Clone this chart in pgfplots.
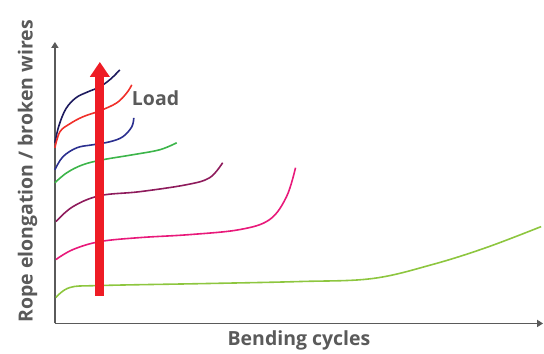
\documentclass[border=0pt]{standalone}
\usepackage{pgfplots}
\pgfplotsset{compat=1.18}
\usepackage{fontspec}
\setmainfont{Open Sans}
\usetikzlibrary{arrows.meta}
\definecolor{navy}{HTML}{1E1B5E}
\definecolor{cred}{HTML}{F0302A}
\definecolor{cblue}{HTML}{2B2F8F}
\definecolor{cgreen}{HTML}{3CB54A}
\definecolor{maroon}{HTML}{8E1B5C}
\definecolor{pink}{HTML}{E8197A}
\definecolor{lgreen}{HTML}{8DC63F}
\definecolor{arrowred}{HTML}{EE1C25}
\definecolor{txt}{HTML}{5A5A5A}
\definecolor{axgray}{HTML}{5A5A5A}
\begin{document}
\begin{tikzpicture}
\begin{axis}[
  scale only axis, width=489bp, height=282bp,
  xmin=55, xmax=544, ymin=30, ymax=312,
  axis lines=left,
  axis line style={draw=axgray, line width=1.8bp, -{Triangle[width=7bp,length=6bp]}},
  xtick=\empty, ytick=\empty,
  clip=false,
  xlabel={Bending cycles}, ylabel={Rope elongation / broken wires},
  label style={font=\bfseries\fontsize{19.5bp}{24bp}\selectfont, text=txt},
  xlabel style={at={(axis description cs:0.5,0)}, anchor=north, yshift=-4bp},
  ylabel style={at={(axis description cs:0,0.54)}, anchor=south, yshift=14bp},
  every axis plot/.append style={line width=1.6bp, smooth, tension=0.6},
]
\draw[draw=none] (axis cs:0,0) rectangle (axis cs:544,354);
% navy
\addplot[navy, mark=none] coordinates {(55,211) (59,228) (66,245) (76,256) (88,262) (100,267) (111,275) (120,284)};
% red
\addplot[cred, mark=none] coordinates {(55,206) (60,222) (70,230) (83,237) (100,243) (117,251) (127,261) (132,269)};
% blue
\addplot[cblue, mark=none] coordinates {(55,184) (63,197) (77,206) (93,209) (110,212) (123,217) (132,227) (134,236)};
% green
\addplot[cgreen, mark=none] coordinates {(55,171) (67,181) (83,189) (103,194) (133,199) (160,204) (177,211)};
% maroon
\addplot[maroon, mark=none] coordinates {(56,132) (73,147) (100,158) (140,162) (187,169) (210,176) (223,191)};
% pink
\addplot[pink, mark=none] coordinates {(56,94) (73,104) (100,112) (140,116) (190,119) (240,124) (270,134) (287,157) (296,186)};
% light green
\addplot[lgreen, mark=none] coordinates {(56,56) (70,66) (100,68) (207,70) (300,72) (373,75) (433,89) (487,106) (542,127)};
% load arrow
\addplot[draw=arrowred, line width=9bp, sharp plot, -{Triangle[width=19bp,length=15bp]}] coordinates {(100,58) (100,292)};
\node[anchor=base west, text=txt, font=\bfseries\fontsize{19.5bp}{24bp}\selectfont, inner sep=0pt] at (axis cs:132,248) {Load};
\end{axis}
\end{tikzpicture}
\end{document}
